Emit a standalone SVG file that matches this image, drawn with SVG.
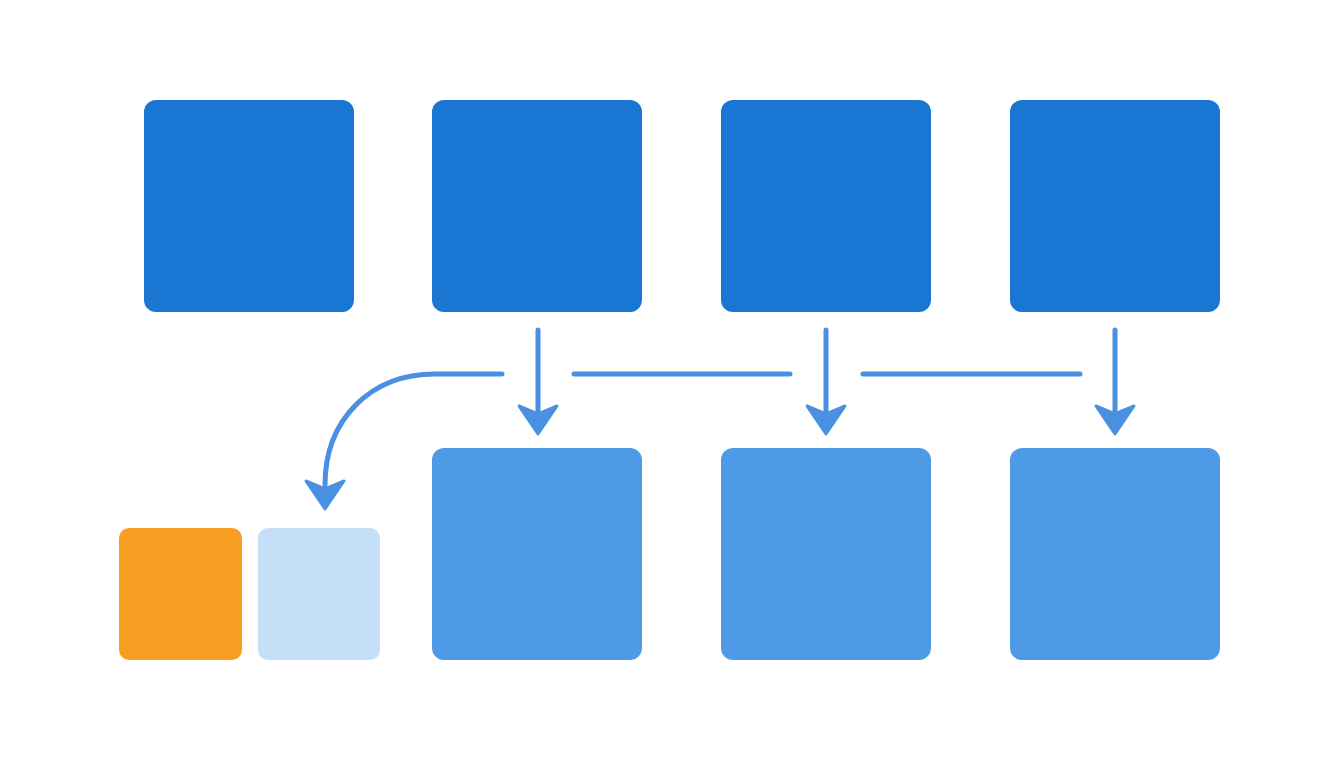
<svg xmlns="http://www.w3.org/2000/svg" width="1344" height="768" viewBox="0 0 1344 768">
<style>
.top{fill:#1976D2}.bot{fill:#4F9AE6}
.ln{stroke:#4A90E2;stroke-width:5;fill:none;stroke-linecap:round}
.ah{fill:#4A90E2;stroke:#4A90E2;stroke-width:3;stroke-linejoin:round}
</style>
<rect width="1344" height="768" fill="#fff"/>
<g id="t1"><rect class="top" x="144" y="100" width="210" height="212" rx="12"/></g>
<g id="t2"><rect class="top" x="432" y="100" width="210" height="212" rx="12"/></g>
<g id="t3"><rect class="top" x="721" y="100" width="210" height="212" rx="12"/></g>
<g id="t4"><rect class="top" x="1010" y="100" width="210" height="212" rx="12"/></g>
<g id="b1"><rect class="bot" x="432" y="448" width="210" height="212" rx="12"/></g>
<g id="b2"><rect class="bot" x="721" y="448" width="210" height="212" rx="12"/></g>
<g id="b3"><rect class="bot" x="1010" y="448" width="210" height="212" rx="12"/></g>
<g id="orange"><rect x="119" y="528" width="123" height="132" rx="10" fill="#F79D22"/></g>
<g id="light"><rect x="258" y="528" width="122" height="132" rx="10" fill="#C5DFF7"/></g>
<g id="connectors">
<path class="ln" d="M538 330V412M826 330V412M1115 330V412"/>
<path class="ln" d="M574 374H790M863 374H1080"/>
<path class="ln" d="M502 374H435C370 374 325 420 325 485"/>
<path class="ah" d="M519 406L538 434L557 406L538 414Z"/>
<path class="ah" d="M807 406L826 434L845 406L826 414Z"/>
<path class="ah" d="M1096 406L1115 434L1134 406L1115 414Z"/>
<path class="ah" d="M306 481L325 509L344 481L325 489Z"/>
</g>
</svg>
